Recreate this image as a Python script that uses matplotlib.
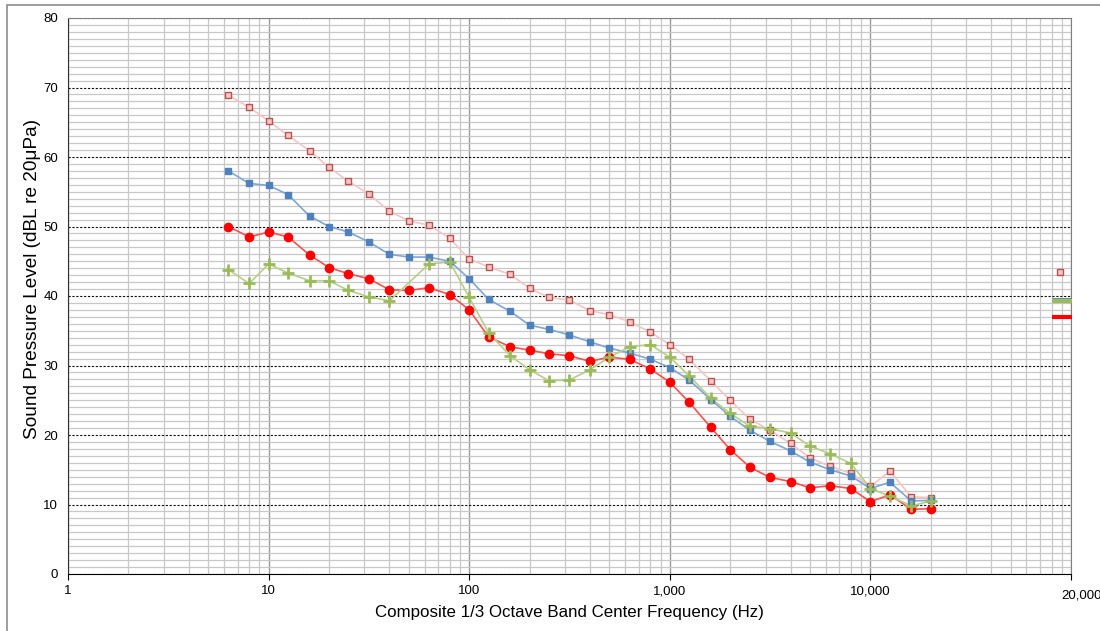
import numpy as np
import matplotlib
matplotlib.use('Agg')
import matplotlib.pyplot as plt
from matplotlib.patches import Rectangle
from matplotlib.ticker import FixedLocator, MultipleLocator, LogLocator, NullFormatter

plt.rcParams['font.family'] = ['Liberation Sans', 'DejaVu Sans']

# 1/3 octave band centre frequencies (Hz)
freqs = [6.3, 8, 10, 12.5, 16, 20, 25, 31.5, 40, 50, 63, 80,
         100, 125, 160, 200, 250, 315, 400, 500, 630, 800, 1000,
         1250, 1600, 2000, 2500, 3150, 4000, 5000, 6300, 8000, 10000,
         12500, 16000, 20000]

pink = [68.9, 67.15, 65.2, 63.1, 60.9, 58.5, 56.5, 54.7, 52.2, 50.8, 50.2, 48.3,
        45.3, 44.2, 43.1, 41.1, 39.8, 39.4, 37.9, 37.3, 36.3, 34.8, 33.0,
        30.9, 27.8, 25.0, 22.3, 20.7, 18.8, 16.7, 15.5, 14.5, 12.6, 14.8, 11.1, 11.0]
blue = [58.0, 56.2, 55.9, 54.6, 51.5, 50.0, 49.2, 47.8, 46.0, 45.6, 45.6, 45.0,
        42.5, 39.5, 37.8, 35.8, 35.2, 34.4, 33.4, 32.5, 31.8, 30.9, 29.7,
        27.9, 25.1, 22.7, 20.7, 19.1, 17.7, 16.1, 15.0, 14.1, 12.3, 13.2, 10.5, 10.6]
red = [50.0, 48.5, 49.2, 48.5, 45.9, 44.1, 43.2, 42.5, 40.9, 40.8, 41.2, 40.2,
       38.0, 34.1, 32.7, 32.2, 31.7, 31.4, 30.6, 31.2, 30.9, 29.5, 27.6,
       24.7, 21.1, 17.9, 15.4, 13.9, 13.3, 12.4, 12.7, 12.3, 10.4, 11.4, 9.3, 9.4]
green = [43.8, 41.8, 44.6, 43.3, 42.2, 42.2, 40.8, 39.9, 39.3, np.nan, 44.6, 44.9,
         39.8, 34.7, 31.4, 29.4, 27.8, 27.9, 29.4, 31.2, 32.7, 33.0, 31.2,
         28.5, 25.3, 23.1, 21.3, 20.9, 20.3, 18.4, 17.3, 15.9, 12.3, 11.2, 9.8, 10.5]

# overall levels shown at the right edge
overall_pink_x = 88000
overall_pink = 43.4
overall_bar_x = 100000
overall_blue = 39.6
overall_green = 39.25
overall_red = 37.0

xtick_vals = [1, 10, 100, 1000, 10000, 100000]
xtick_labels = ['1', '10', '100', '1,000', '10,000', '']

fig = plt.figure(figsize=(11, 6.31), dpi=100)
W, H = 1100, 631
ax = fig.add_axes([68 / W, (H - 574) / H, (1071 - 68) / W, (574 - 18) / H])

# chart border
fig.patches.append(Rectangle((7 / W, -0.1), 1.2, 1 - 5 / H + 0.1, transform=fig.transFigure,
                             fill=False, edgecolor='#8c8c8c', linewidth=1.2))

f = np.array(freqs)

ax.plot(f, pink, '-', color='#f4c6c3', lw=1.2, zorder=3)
ax.plot(f, pink, 's', ms=4.5, mfc='#f0c8c6', mec='#c0504d', mew=1.0, zorder=4)

ax.plot(f, blue, '-', color='#7ea6d9', lw=1.2, zorder=3)
ax.plot(f, blue, 's', ms=4.2, color='#4f81bd', zorder=4)

ax.plot(f, red, '-', color='#ff5050', lw=1.2, zorder=3)
ax.plot(f, red, 'o', ms=6, color='#ff0000', zorder=4)

g = np.array(green)
ok = ~np.isnan(g)
ax.plot(f[ok], g[ok], '-', color='#b4cf88', lw=1.2, zorder=3)
ax.plot(f[ok], g[ok], '+', ms=8.5, mew=2, color='#9bbb59', zorder=4)

ax.plot([overall_pink_x], [overall_pink], 's', ms=4.5, mfc='#f0c8c6', mec='#c0504d', mew=1.0, zorder=4)
ax.plot([overall_bar_x], [overall_blue], '_', ms=27, mew=2, color='#4f81bd', zorder=4)
ax.plot([overall_bar_x], [overall_green], '_', ms=27, mew=3, color='#9bbb59', zorder=4)
ax.plot([overall_bar_x], [overall_red], '_', ms=27, mew=3, color='#ff0000', zorder=4)

ax.set_xscale('log')
ax.set_xlim(1, 100000)
ax.set_ylim(0, 80)

ax.xaxis.set_major_locator(FixedLocator(xtick_vals))
ax.set_xticklabels(xtick_labels)
ax.xaxis.set_minor_locator(LogLocator(base=10, subs=np.arange(2, 10)))
ax.xaxis.set_minor_formatter(NullFormatter())
ax.yaxis.set_major_locator(MultipleLocator(10))
ax.yaxis.set_minor_locator(MultipleLocator(1))

ax.grid(which='minor', axis='both', color='#c8c8c8', lw=0.9, zorder=0)
ax.grid(which='major', axis='x', color='#9a9a9a', lw=1.0, zorder=1)
ax.grid(which='major', axis='y', color='#111111', lw=0.8, ls=(0, (2, 1.5)), zorder=1)

ax.tick_params(axis='x', which='major', length=4, color='black', labelsize=9.5, pad=4)
ax.tick_params(axis='x', which='minor', length=0)
ax.tick_params(axis='y', which='both', length=0, labelsize=9.5, pad=7)

for s in ['top', 'right']:
    ax.spines[s].set_color('#808080')
ax.spines['left'].set_color('#303030')
ax.spines['bottom'].set_color('black')

ax.set_xlabel('Composite 1/3 Octave Band Center Frequency (Hz)', fontsize=12.2, labelpad=6)
ax.set_ylabel('Sound Pressure Level (dBL re 20\u03bcPa)', fontsize=13.7)
ax.yaxis.set_label_coords(-0.027, 0.53)

ax.annotate('20,000', xy=(1, 0), xycoords='axes fraction', xytext=(11, -21),
            textcoords='offset pixels', ha='center', va='center', fontsize=9.5)

fig.savefig('out.png', dpi=100)
